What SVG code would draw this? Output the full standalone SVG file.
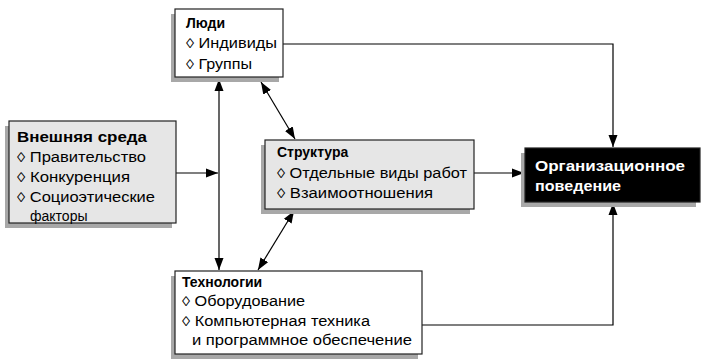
<svg xmlns="http://www.w3.org/2000/svg" width="717" height="363" viewBox="0 0 717 363">
<style>
.box{stroke:#222;stroke-width:1.2}
.shadow{fill:#a8a8a8}
.t{font-family:"Liberation Sans",Arial,sans-serif;font-size:14px;fill:#000}
.h{font-weight:bold}
.w{fill:#fff;font-weight:bold}
.c{fill:none;stroke:#000;stroke-width:1.2}
</style>
<defs>
<marker id="ah" markerUnits="userSpaceOnUse" markerWidth="13" markerHeight="10" refX="12" refY="4.5" orient="auto-start-reverse" viewBox="0 0 13 9">
<path d="M0,0 L12,4.5 L0,9 z" fill="#000"/>
</marker>
</defs>
<rect width="717" height="363" fill="#fff"/>

<g id="connectors">
<path class="c" d="M283,44 H613 V147" marker-end="url(#ah)"/>
<path class="c" d="M422,325 H613 V203" marker-end="url(#ah)"/>
<path class="c" d="M474,173 H524" marker-end="url(#ah)"/>
<path class="c" d="M176,173 H218" marker-end="url(#ah)"/>
<path class="c" d="M219,79 V270" marker-start="url(#ah)" marker-end="url(#ah)"/>
<path class="c" d="M261,82 L295,139" marker-start="url(#ah)" marker-end="url(#ah)"/>
<path class="c" d="M294,211 L258,270" marker-start="url(#ah)" marker-end="url(#ah)"/>
</g>

<g id="people">
<rect class="shadow" x="171" y="14" width="108" height="68"/>
<rect class="box" x="175" y="9" width="108" height="68" fill="#fff"/>
<text class="t h" x="186" y="28">Люди</text>
<text class="t" x="186" y="48" textLength="91" lengthAdjust="spacingAndGlyphs">◊ Индивиды</text>
<text class="t" x="186" y="69" textLength="66" lengthAdjust="spacingAndGlyphs">◊ Группы</text>
</g>

<g id="environment">
<rect class="shadow" x="5" y="126" width="167" height="102"/>
<rect class="box" x="9" y="121" width="167" height="102" fill="#e6e6e6"/>
<text class="t h" x="17" y="142" textLength="130" lengthAdjust="spacingAndGlyphs">Внешняя среда</text>
<text class="t" x="17" y="162" textLength="129" lengthAdjust="spacingAndGlyphs">◊ Правительство</text>
<text class="t" x="17" y="182" textLength="113" lengthAdjust="spacingAndGlyphs">◊ Конкуренция</text>
<text class="t" x="17" y="202" textLength="138" lengthAdjust="spacingAndGlyphs">◊ Социоэтические</text>
<text class="t" x="30" y="221">факторы</text>
</g>

<g id="structure">
<rect class="shadow" x="261" y="145" width="209" height="69"/>
<rect class="box" x="265" y="140" width="209" height="69" fill="#e6e6e6"/>
<text class="t h" x="277" y="157">Структура</text>
<text class="t" x="277" y="178" textLength="190" lengthAdjust="spacingAndGlyphs">◊ Отдельные виды работ</text>
<text class="t" x="277" y="198" textLength="156" lengthAdjust="spacingAndGlyphs">◊ Взаимоотношения</text>
</g>

<g id="behavior">
<rect class="shadow" x="521" y="153" width="175" height="54"/>
<rect class="box" x="525" y="148" width="175" height="54" fill="#000"/>
<text class="t w" x="535" y="171" textLength="150" lengthAdjust="spacingAndGlyphs">Организационное</text>
<text class="t w" x="535" y="191" textLength="86" lengthAdjust="spacingAndGlyphs">поведение</text>
</g>

<g id="technology">
<rect class="shadow" x="171" y="276" width="247" height="83"/>
<rect class="box" x="175" y="271" width="247" height="83" fill="#fff"/>
<text class="t h" x="182" y="287">Технологии</text>
<text class="t" x="182" y="306" textLength="123" lengthAdjust="spacingAndGlyphs">◊ Оборудование</text>
<text class="t" x="182" y="326" textLength="188" lengthAdjust="spacingAndGlyphs">◊ Компьютерная техника</text>
<text class="t" x="192" y="345" textLength="220" lengthAdjust="spacingAndGlyphs">и программное обеспечение</text>
</g>
</svg>
